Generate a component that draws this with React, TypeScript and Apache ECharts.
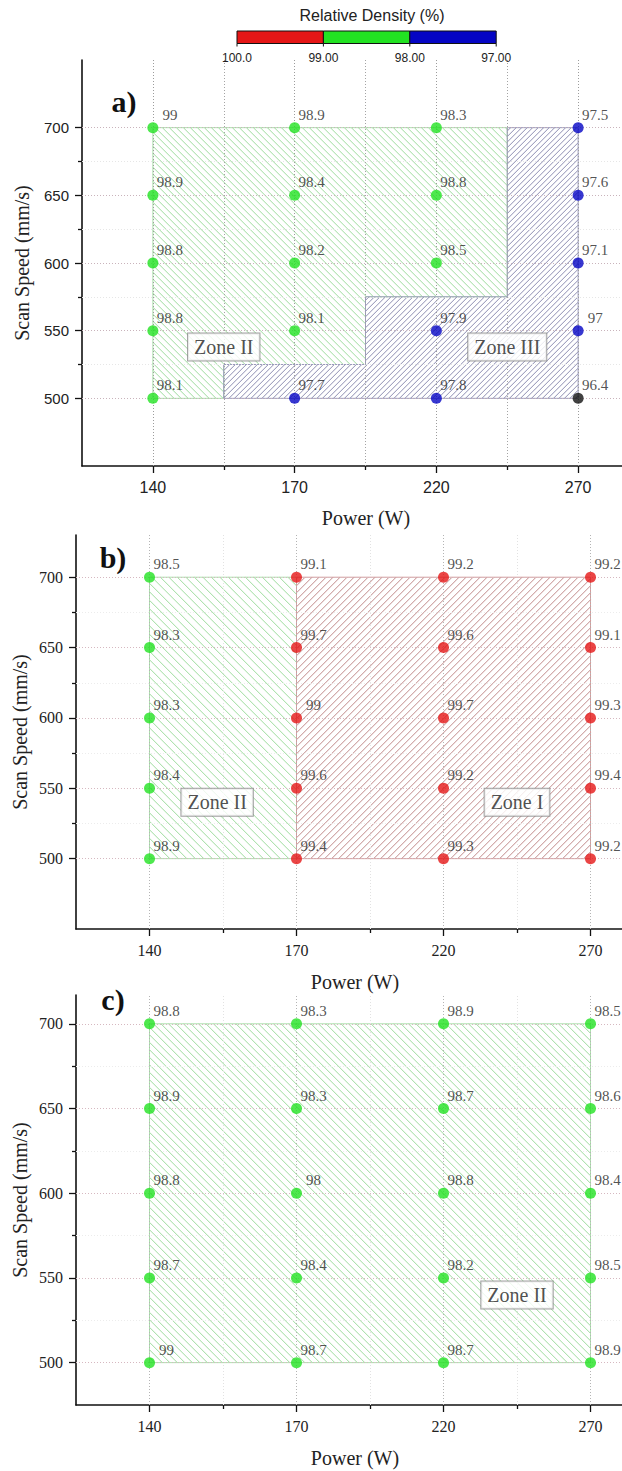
import React, { useEffect, useRef } from "react";
import * as echarts from "echarts";

// ---------------- data ----------------
const powerLabels = ["140", "170", "220", "270"];
const powerIndex = [0, 1, 2, 3];
const boundaryIndex = [0.5, 1.5, 2.5];
const speedValues = [700, 650, 600, 550, 500];
const speedMajorTicks = [500, 550, 600, 650, 700];
const speedMinorTicks = [525, 575, 625, 675];

// rows follow speedValues (700 -> 500), columns follow powerLabels
const densityA = [
  [99, 98.9, 98.3, 97.5],
  [98.9, 98.4, 98.8, 97.6],
  [98.8, 98.2, 98.5, 97.1],
  [98.8, 98.1, 97.9, 97],
  [98.1, 97.7, 97.8, 96.4],
];
const densityB = [
  [98.5, 99.1, 99.2, 99.2],
  [98.3, 99.7, 99.6, 99.1],
  [98.3, 99.04, 99.7, 99.3],
  [98.4, 99.6, 99.2, 99.4],
  [98.9, 99.4, 99.3, 99.2],
];
const densityC = [
  [98.8, 98.3, 98.9, 98.5],
  [98.9, 98.3, 98.7, 98.6],
  [98.8, 98, 98.8, 98.4],
  [98.7, 98.4, 98.2, 98.5],
  [99, 98.7, 98.7, 98.9],
];

const colorbarLabels = ["100.0", "99.00", "98.00", "97.00"];

// zone outlines: [power index, scan speed]
const zoneA_II = [[0, 700], [2.5, 700], [2.5, 575], [1.5, 575], [1.5, 525], [0.5, 525], [0.5, 500], [0, 500]];
const zoneA_III = [[2.5, 700], [3, 700], [3, 500], [0.5, 500], [0.5, 525], [1.5, 525], [1.5, 575], [2.5, 575]];
const zoneB_II = [[0, 700], [1, 700], [1, 500], [0, 500]];
const zoneB_I = [[1, 700], [3, 700], [3, 500], [1, 500]];
const zoneC_II = [[0, 700], [3, 700], [3, 500], [0, 500]];

const zoneLabelsA = [[0.5, 538, "Zone II"], [2.5, 538, "Zone III"]];
const zoneLabelsB = [[0.46, 540, "Zone II"], [2.5, 540, "Zone I"]];
const zoneLabelsC = [[2.5, 540, "Zone II"]];

// ---------------- styles ----------------
const RED = "#e51616";
const GREEN = "#22e222";
const BLUE = "#0505c4";
const BLACK = "#111111";
const SERIF = "Liberation Serif";
const SANS = "Liberation Sans";

function densityColor(v: number) {
  if (v > 99) return RED;
  if (v >= 98) return GREEN;
  if (v >= 97) return BLUE;
  return BLACK;
}
function fmt(v: number) {
  return String(Math.round(v * 10) / 10);
}

const hatchStyles: any = {
  green: { line: "#9edc9e", border: "#ade0ad" },
  blue: { line: "#8e8eb2", border: "#9a9abb" },
  red: { line: "#c18a8a", border: "#d29c9c" },
};

const panels = [
  {
    letter: "a)", letterPos: [124, 101],
    grid: { left: 82, top: 60, width: 567, height: 406 },
    yMin: 450, yMax: 750, density: densityA,
    zones: [
      { pts: zoneA_II, kind: "green", dir: 1, gap: 7 },
      { pts: zoneA_III, kind: "blue", dir: -1, gap: 5.5 },
    ],
    zoneLabels: zoneLabelsA,
    tickFont: SANS, tickSize: 15, xTickSize: 16,
    yTitle: [22, 263], xTitle: [366, 518],
    vCenter: "#9c9c9c", vBound: "#a4a4a4", hMajor: "#c9b3bb", hMinor: "#e6e6e6",
  },
  {
    letter: "b)", letterPos: [113, 557],
    grid: { left: 76, top: 535, width: 588, height: 394 },
    yMin: 450, yMax: 730, density: densityB,
    zones: [
      { pts: zoneB_II, kind: "green", dir: 1, gap: 8.5 },
      { pts: zoneB_I, kind: "red", dir: -1, gap: 7 },
    ],
    zoneLabels: zoneLabelsB,
    tickFont: SERIF, tickSize: 16, xTickSize: 16,
    yTitle: [20, 732], xTitle: [355, 982],
    vCenter: "#b4b4b4", vBound: "#e2e2e2", hMajor: "#d6b8c0", hMinor: "#ececec",
  },
  {
    letter: "c)", letterPos: [113, 999],
    grid: { left: 76, top: 995, width: 588, height: 410 },
    yMin: 475, yMax: 717, density: densityC,
    zones: [{ pts: zoneC_II, kind: "green", dir: 1, gap: 7.5 }],
    zoneLabels: zoneLabelsC,
    tickFont: SERIF, tickSize: 16, xTickSize: 16,
    yTitle: [20, 1200], xTitle: [355, 1458],
    vCenter: "#b4b4b4", vBound: "#e2e2e2", hMajor: "#d6b8c0", hMinor: "#ececec",
  },
];

// hatch lines y = k*x + c clipped to a rectilinear polygon (pixel coords)
function hatchSegments(pts: number[][], d: number, k: number) {
  const cs = pts.map(([x, y]) => y - k * x);
  const cMin = Math.min(...cs);
  const cMax = Math.max(...cs);
  const segs: number[][] = [];
  for (let c = Math.ceil(cMin / d) * d + 0.31; c < cMax; c += d) {
    const xs: number[] = [];
    for (let i = 0; i < pts.length; i++) {
      const [x1, y1] = pts[i];
      const [x2, y2] = pts[(i + 1) % pts.length];
      if (Math.abs(x1 - x2) < 1e-6) {
        const y = k * x1 + c;
        if (y >= Math.min(y1, y2) && y < Math.max(y1, y2)) xs.push(x1);
      } else {
        const x = (y1 - c) / k;
        if (x >= Math.min(x1, x2) && x < Math.max(x1, x2)) xs.push(x);
      }
    }
    xs.sort((a, b) => a - b);
    for (let j = 0; j + 1 < xs.length; j += 2) {
      segs.push([xs[j], k * xs[j] + c, xs[j + 1], k * xs[j + 1] + c]);
    }
  }
  return segs;
}

function buildOption() {
  const grid: any[] = [];
  const xAxis: any[] = [];
  const yAxis: any[] = [];
  const series: any[] = [];
  const graphic: any[] = [];

  panels.forEach((p, i) => {
    grid.push({ ...p.grid, containLabel: false, outerBoundsMode: "none" });
    const ax = i * 2;
    const tickLine = { color: "#111", width: 1.3 };
    xAxis.push({
      type: "value", gridIndex: i, min: -0.5, max: 3.5, position: "bottom",
      axisLine: { show: true, onZero: false, lineStyle: { color: "#111", width: 1.6 } },
      axisTick: { show: true, customValues: powerIndex, length: 7, lineStyle: tickLine },
      axisLabel: {
        show: true, customValues: powerIndex, margin: 13,
        formatter: (v: number) => powerLabels[Math.round(v)] ?? "",
        fontFamily: p.tickFont, fontSize: p.xTickSize, color: "#222",
      },
      splitLine: { show: false },
    });
    xAxis.push({
      type: "value", gridIndex: i, min: -0.5, max: 3.5, position: "bottom",
      axisLine: { show: false, onZero: false },
      axisTick: { show: true, customValues: boundaryIndex, length: 4, lineStyle: tickLine },
      axisLabel: { show: false },
      splitLine: { show: false },
    });
    yAxis.push({
      type: "value", gridIndex: i, min: p.yMin, max: p.yMax, position: "left",
      axisLine: { show: true, onZero: false, lineStyle: { color: "#111", width: 1.6 } },
      axisTick: { show: true, customValues: speedMajorTicks, length: 7, lineStyle: tickLine },
      axisLabel: {
        show: true, customValues: speedMajorTicks, margin: 13,
        fontFamily: p.tickFont, fontSize: p.tickSize, color: "#222",
      },
      splitLine: { show: false },
    });
    yAxis.push({
      type: "value", gridIndex: i, min: p.yMin, max: p.yMax, position: "left",
      axisLine: { show: false, onZero: false },
      axisTick: { show: true, customValues: speedMinorTicks, length: 4, lineStyle: tickLine },
      axisLabel: { show: false },
      splitLine: { show: false },
    });

    // hatched zones
    p.zones.forEach((z) => {
      const st = hatchStyles[z.kind];
      series.push({
        type: "custom", xAxisIndex: ax, yAxisIndex: ax, silent: true, z: 2,
        data: z.pts,
        renderItem: (params: any, api: any) => {
          if (params.dataIndex !== 0) return null;
          const px = z.pts.map((q) => api.coord(q));
          const children: any[] = hatchSegments(px, z.gap, z.dir).map((s) => ({
            type: "line",
            shape: { x1: s[0], y1: s[1], x2: s[2], y2: s[3] },
            style: { stroke: st.line, lineWidth: 1 },
          }));
          children.push({
            type: "polygon",
            shape: { points: px },
            style: { fill: "none", stroke: st.border, lineWidth: 1 },
          });
          return { type: "group", children };
        },
      });
    });

    // grid lines + points
    const dot = [1, 2];
    const mlData: any[] = [];
    powerIndex.forEach((v) => mlData.push({ xAxis: v, lineStyle: { color: p.vCenter, type: dot, width: 1 } }));
    boundaryIndex.forEach((v) => mlData.push({ xAxis: v, lineStyle: { color: p.vBound, type: dot, width: 1 } }));
    speedMajorTicks.forEach((v) => mlData.push({ yAxis: v, lineStyle: { color: p.hMajor, type: dot, width: 1 } }));
    speedMinorTicks.forEach((v) => mlData.push({ yAxis: v, lineStyle: { color: p.hMinor, type: dot, width: 1 } }));

    const pts: any[] = [];
    speedValues.forEach((s, r) => powerIndex.forEach((c) => pts.push([c, s, p.density[r][c]])));
    series.push({
      type: "scatter", xAxisIndex: ax, yAxisIndex: ax, z: 10,
      symbol: "circle", symbolSize: 11,
      data: pts,
      itemStyle: { color: (d: any) => densityColor(d.value[2]) },
      label: {
        show: true, position: "inside", offset: [17, -13],
        formatter: (d: any) => fmt(d.value[2]),
        fontFamily: SERIF, fontSize: 15, color: "#262626",
      },
      markLine: {
        silent: true, symbol: ["none", "none"], label: { show: false },
        z: 5, data: mlData,
      },
    });

    // zone name boxes
    series.push({
      type: "scatter", xAxisIndex: ax, yAxisIndex: ax, z: 20, silent: true,
      symbolSize: 1, itemStyle: { color: "rgba(0,0,0,0)" },
      data: p.zoneLabels,
      label: {
        show: true, position: "inside",
        formatter: (d: any) => d.value[2],
        fontFamily: SERIF, fontSize: 20, color: "#222",
        backgroundColor: "#ffffff", borderColor: "#8a8a8a", borderWidth: 1,
        padding: [4, 6, 3, 6],
      },
    });

    graphic.push({
      type: "text", x: p.letterPos[0], y: p.letterPos[1], z: 30,
      style: { text: p.letter, fontFamily: SERIF, fontWeight: "bold", fontSize: 30, fill: "#111", align: "center", verticalAlign: "middle" },
    });
    graphic.push({
      type: "text", x: p.yTitle[0], y: p.yTitle[1], rotation: Math.PI / 2, z: 30,
      style: { text: "Scan Speed (mm/s)", fontFamily: SERIF, fontSize: 20, fill: "#222", align: "center", verticalAlign: "middle" },
    });
    graphic.push({
      type: "text", x: p.xTitle[0], y: p.xTitle[1], z: 30,
      style: { text: "Power (W)", fontFamily: SERIF, fontSize: 20, fill: "#222", align: "center", verticalAlign: "middle" },
    });
  });

  // colour bar legend
  const cbX0 = 237, cbW = 86.4, cbY = 31, cbH = 12.5;
  const cbColors = [RED, GREEN, BLUE];
  cbColors.forEach((c, i) => {
    graphic.push({
      type: "rect", z: 40,
      shape: { x: cbX0 + i * cbW, y: cbY, width: cbW, height: cbH },
      style: { fill: c, stroke: "#111", lineWidth: 1 },
    });
  });
  colorbarLabels.forEach((t, i) => {
    const x = cbX0 + i * cbW;
    graphic.push({ type: "line", z: 40, shape: { x1: x, y1: cbY + cbH, x2: x, y2: cbY + cbH + 3 }, style: { stroke: "#111", lineWidth: 1 } });
    graphic.push({
      type: "text", x, y: 58, z: 40,
      style: { text: t, fontFamily: SANS, fontSize: 12, fill: "#222", align: "center", verticalAlign: "middle" },
    });
  });
  graphic.push({
    type: "text", x: 372, y: 15, z: 40,
    style: { text: "Relative Density (%)", fontFamily: SANS, fontSize: 16, fill: "#222", align: "center", verticalAlign: "middle" },
  });

  return {
    animation: false,
    backgroundColor: "#ffffff",
    grid, xAxis, yAxis, series, graphic,
  };
}

export default function App() {
  const ref = useRef<HTMLDivElement>(null);
  useEffect(() => {
    document.body.style.margin = "0";
    const chart = echarts.init(ref.current as HTMLDivElement, undefined, { renderer: "svg" });
    chart.setOption(buildOption() as any);
    return () => chart.dispose();
  }, []);
  return <div ref={ref} style={{ width: 622, height: 1471, overflow: "hidden" }} />;
}
